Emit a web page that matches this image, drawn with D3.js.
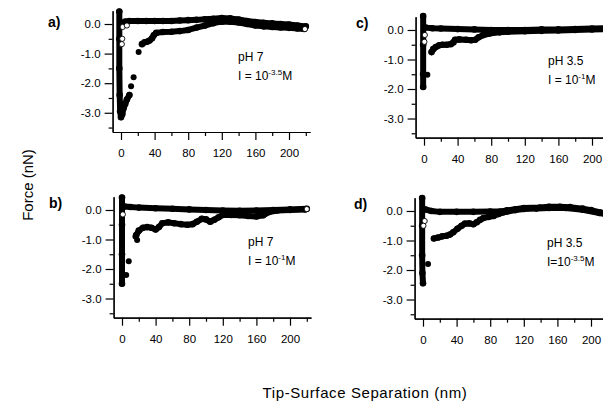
<!DOCTYPE html>
<html>
<head>
<meta charset="utf-8">
<script src="https://cdn.jsdelivr.net/npm/d3@7"></script>
<style>
	body { margin: 0; background: #fff; }
	svg { display: block; font-family: "Liberation Sans", Arial, sans-serif; }
</style>
</head>
<body>
<script>
// Axis settings
var xDomain = [-10, 225];
var yDomain = [-3.65, 0.45];
var xMajor = [0, 40, 80, 120, 160, 200];
var xMinor = [20, 60, 100, 140, 180, 220];
var yMajor = [0, -1, -2, -3];
var yMinor = [-0.5, -1.5, -2.5, -3.5];

// Panel a) pH 7, I = 10^-3.5 M   [separation nm, force nN]
var aApproach = [[2, 0.03], [5, 0.08], [10, 0.1], [20, 0.1], [30, 0.1], [40, 0.1], [50, 0.1], [60, 0.1], [70, 0.12], [80, 0.13], [90, 0.14], [100, 0.16], [110, 0.18], [120, 0.2], [130, 0.19], [140, 0.15], [150, 0.1], [160, 0.07], [170, 0.04], [180, 0.02], [190, 0], [200, -0.02], [210, -0.05], [220, -0.08]];
var aContact = [[-2, 0.42], [-2, -0.5], [-2, -1.5], [-1.6, -2.4], [-1, -2.95], [0, -3.15], [1.5, -3.05], [3, -2.85], [5, -2.7], [7, -2.55], [10, -2.4]];
var aRetract = [[25, -0.68], [28, -0.62], [31, -0.6], [34, -0.56], [37, -0.48], [39, -0.38], [42, -0.3], [50, -0.27], [60, -0.26], [70, -0.24], [80, -0.2], [90, -0.12], [100, -0.05], [110, 0.03], [120, 0.08], [130, 0.08], [140, 0.05], [150, 0], [160, -0.05], [170, -0.08], [180, -0.1], [190, -0.12], [200, -0.13], [210, -0.15], [218, -0.17]];
var aDots = [[12, -2.1], [15, -1.8], [21, -0.95]];
var aOpen = [[2, -0.1], [7, -0.05], [1.5, -0.5], [1, -0.68], [219, -0.17]];

// Panel b) pH 7, I = 10^-1 M
var bApproach = [[3, 0.12], [10, 0.1], [20, 0.08], [40, 0.06], [60, 0.04], [80, 0.02], [100, 0], [120, -0.02], [140, -0.03], [160, -0.02], [180, 0], [200, 0.02], [220, 0.04]];
var bContact = [[0, 0.42], [0, -0.5], [0, -1.5], [0, -2.5]];
var bRetract = [[17, -0.85], [20, -0.7], [25, -0.6], [30, -0.58], [35, -0.6], [40, -0.66], [44, -0.58], [48, -0.45], [55, -0.42], [62, -0.45], [70, -0.48], [78, -0.5], [84, -0.48], [89, -0.4], [95, -0.3], [100, -0.32], [105, -0.4], [110, -0.33], [115, -0.25], [120, -0.17], [130, -0.17], [140, -0.18], [150, -0.2], [160, -0.22], [168, -0.18], [175, -0.07], [185, -0.02], [200, 0], [218, 0.02]];
var bDots = [[5, -2.2], [8, -1.74], [16, -0.9], [18, -1.02]];
var bOpen = [[1, -0.15], [220, 0.03]];

// Panel c) pH 3.5, I = 10^-1 M
var cApproach = [[2, 0.08], [10, 0.06], [20, 0.05], [40, 0.03], [60, 0.02], [80, 0], [100, 0], [120, 0], [140, 0.02], [160, 0.02], [180, 0.03], [200, 0.05], [225, 0.06]];
var cContact = [[-1, 0.47], [-1, -0.5], [-1, -1.5], [-1, -1.93]];
var cRetract = [[9, -0.75], [11, -0.65], [14, -0.58], [18, -0.52], [22, -0.5], [27, -0.5], [32, -0.48], [35, -0.42], [37, -0.33], [42, -0.32], [50, -0.33], [56, -0.35], [61, -0.33], [65, -0.25], [70, -0.18], [78, -0.12], [90, -0.08], [100, -0.06], [120, -0.04], [140, -0.03], [160, -0.02], [180, 0], [200, 0.02], [225, 0.03]];
var cDots = [[4, -1.52]];
var cOpen = [[1, -0.17], [0.5, -0.4]];

// Panel d) pH 3.5, I = 10^-3.5 M
var dApproach = [[3, 0.05], [10, 0], [20, -0.03], [40, -0.03], [60, -0.03], [80, -0.02], [92, -0.02], [100, 0.02], [110, 0.06], [120, 0.1], [139, 0.12], [150, 0.14], [163, 0.14], [175, 0.13], [190, 0.08], [200, 0.03], [211, -0.05], [225, -0.15]];
var dContact = [[-1, 0.44], [-1, -0.5], [-1, -1.5], [-0.7, -2.1], [0, -2.45]];
var dRetract = [[13, -0.93], [18, -0.9], [23, -0.86], [28, -0.84], [32, -0.8], [36, -0.72], [41, -0.6], [46, -0.5], [50, -0.43], [55, -0.42], [60, -0.45], [64, -0.38], [68, -0.3], [72, -0.24], [78, -0.2], [84, -0.17], [90, -0.1], [95, -0.05], [100, -0.02], [110, 0.03], [120, 0.07], [135, 0.08], [150, 0.1], [170, 0.1], [190, 0.04], [210, -0.07], [225, -0.16]];
var dDots = [[6, -1.8]];
var dOpen = [[2, -0.34], [0.5, -0.5]];

var panels = [
	{label: "a)", ph: "pH 7", ion: "I = 10", exp: "-3.5", x0: 112.6, x1: 310, y0: 132, y1: 10.7, lx: 48, ly: 27, tx: 238, ty: 61,
		approach: aApproach, contact: aContact, retract: aRetract, dots: aDots, open: aOpen},
	{label: "b)", ph: "pH 7", ion: "I = 10", exp: "-1", x0: 113.6, x1: 311, y0: 317.7, y1: 196.7, lx: 49, ly: 208, tx: 248, ty: 246,
		approach: bApproach, contact: bContact, retract: bRetract, dots: bDots, open: bOpen},
	{label: "c)", ph: "pH 3.5", ion: "I = 10", exp: "-1", x0: 415.6, x1: 613, y0: 137.7, y1: 16.7, lx: 356, ly: 28, tx: 548, ty: 65,
		approach: cApproach, contact: cContact, retract: cRetract, dots: cDots, open: cOpen},
	{label: "d)", ph: "pH 3.5", ion: "I=10", exp: "-3.5", x0: 414.6, x1: 612, y0: 318.7, y1: 197.7, lx: 354, ly: 209, tx: 547, ty: 247,
		approach: dApproach, contact: dContact, retract: dRetract, dots: dDots, open: dOpen}
];

var w = 603;
var h = 402;

var svg = d3.select("body").
append("svg").
attr("width", w).
attr("height", h);

panels.forEach(function (p) {
	var xScale = d3.scaleLinear().domain(xDomain).range([p.x0, p.x1]);
	var yScale = d3.scaleLinear().domain(yDomain).range([p.y0, p.y1]);
	var g = svg.append("g");

	// Axes: major ticks with labels, minor ticks without
	var xAxis = d3.axisBottom(xScale).tickValues(xMajor).tickSize(8).tickPadding(9).tickSizeOuter(0).tickFormat(d3.format("d"));
	var xAxisMinor = d3.axisBottom(xScale).tickValues(xMinor).tickSize(4).tickSizeOuter(0).tickFormat("");
	var yAxis = d3.axisLeft(yScale).tickValues(yMajor).tickSize(8).tickPadding(4).tickSizeOuter(0).tickFormat(function (d) {return d.toFixed(1);});
	var yAxisMinor = d3.axisLeft(yScale).tickValues(yMinor).tickSize(4).tickSizeOuter(0).tickFormat("");

	[xAxis, xAxisMinor].forEach(function (ax) {
		g.append("g").attr("transform", "translate(0," + p.y0 + ")").call(ax);
	});
	[yAxis, yAxisMinor].forEach(function (ax) {
		g.append("g").attr("transform", "translate(" + p.x0 + ",0)").call(ax);
	});
	g.selectAll(".domain, .tick line").attr("stroke", "#000").attr("stroke-width", 1.2);
	g.selectAll(".tick text").attr("fill", "#000").style("font-size", "11.5px");

	// Data: dense marker bands drawn as thick lines plus markers
	var line = d3.line().x(function (d) {return xScale(d[0]);}).y(function (d) {return yScale(d[1]);});
	[p.approach, p.contact, p.retract].forEach(function (s) {
		g.append("path").
		attr("d", line(s)).
		attr("fill", "none").
		attr("stroke", "#000").
		attr("stroke-width", 6).
		attr("stroke-linecap", "round").
		attr("stroke-linejoin", "round");
		g.selectAll(null).data(s).enter().append("circle").
		attr("cx", function (d) {return xScale(d[0]);}).
		attr("cy", function (d) {return yScale(d[1]);}).
		attr("r", 3.3).
		attr("fill", "#000");
	});
	g.selectAll(null).data(p.dots).enter().append("circle").
	attr("cx", function (d) {return xScale(d[0]);}).
	attr("cy", function (d) {return yScale(d[1]);}).
	attr("r", 3).
	attr("fill", "#000");
	g.selectAll(null).data(p.open).enter().append("circle").
	attr("cx", function (d) {return xScale(d[0]);}).
	attr("cy", function (d) {return yScale(d[1]);}).
	attr("r", 2.6).
	attr("fill", "#fff").
	attr("stroke", "#000").
	attr("stroke-width", 0.9);

	// Panel label
	g.append("text").
	attr("x", p.lx).
	attr("y", p.ly).
	text(p.label).
	style("font-size", "14px").
	style("font-weight", "bold");

	// Condition text
	g.append("text").
	attr("x", p.tx).
	attr("y", p.ty).
	text(p.ph).
	style("font-size", "12px");

	var ion = g.append("text").
	attr("x", p.tx).
	attr("y", p.ty + 19).
	style("font-size", "12px");
	ion.append("tspan").text(p.ion);
	ion.append("tspan").attr("dy", -5).style("font-size", "8px").text(p.exp);
	ion.append("tspan").attr("dy", 5).text("M");
});

// Axis titles
svg.append("text").
attr("transform", "translate(33,185) rotate(-90)").
attr("text-anchor", "middle").
text("Force (nN)").
style("font-size", "15px");

svg.append("text").
attr("x", 365).
attr("y", 398).
attr("text-anchor", "middle").
text("Tip-Surface Separation (nm)").
style("font-size", "15px").
style("letter-spacing", "0.6px");
</script>
</body>
</html>
